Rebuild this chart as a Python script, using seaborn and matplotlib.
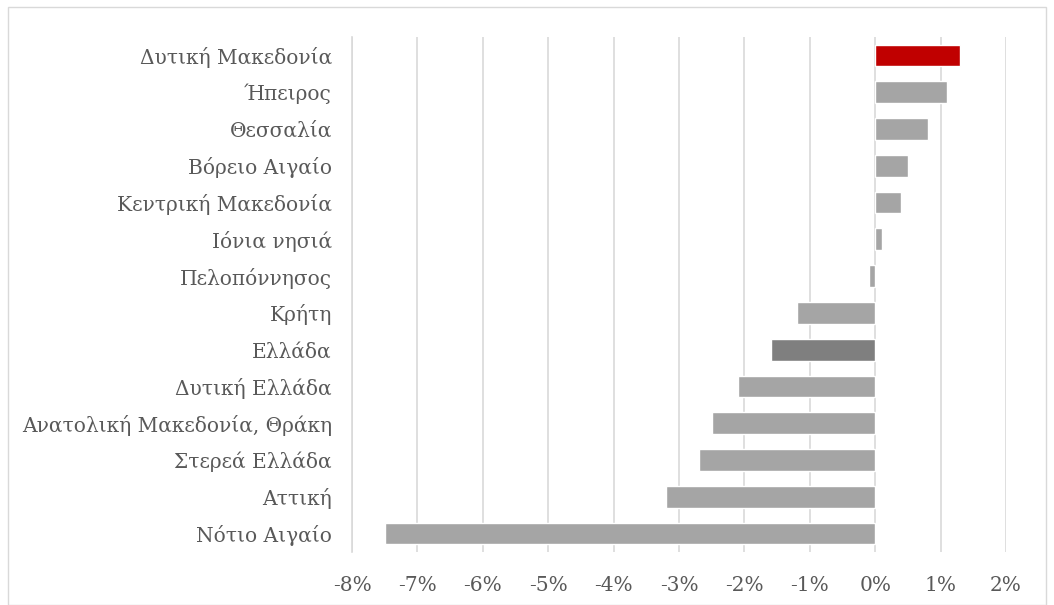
import matplotlib
matplotlib.use('Agg')
import matplotlib.pyplot as plt
import seaborn as sns
import pandas as pd
from matplotlib.patches import Rectangle
from matplotlib.ticker import FuncFormatter, MultipleLocator

# Data (% change)
regions = ['Δυτική Μακεδονία', 'Ήπειρος', 'Θεσσαλία', 'Βόρειο Αιγαίο', 'Κεντρική Μακεδονία',
           'Ιόνια νησιά', 'Πελοπόννησος', 'Κρήτη', 'Ελλάδα', 'Δυτική Ελλάδα',
           'Ανατολική Μακεδονία, Θράκη', 'Στερεά Ελλάδα', 'Αττική', 'Νότιο Αιγαίο']
change = [1.3, 1.1, 0.8, 0.5, 0.4, 0.1, -0.1, -1.2, -1.6, -2.1, -2.5, -2.7, -3.2, -7.5]
bar_colors = ['#C00000'] + ['#A5A5A5'] * 7 + ['#7F7F7F'] + ['#A5A5A5'] * 5

df = pd.DataFrame({'region': regions, 'change': change})

sns.set_style('white')
plt.rcParams['font.family'] = ['DejaVu Serif']

fig = plt.figure(figsize=(10.54, 6.05), dpi=100)
ax = fig.add_axes([352 / 1054, 1 - 552 / 605, (1006 - 352) / 1054, (552 - 37) / 605])

sns.barplot(data=df, x='change', y='region', hue='region', palette=bar_colors,
            legend=False, width=0.59, ax=ax, orient='h', saturation=1)

ax.set_xlim(-8, 2)
ax.xaxis.set_major_locator(MultipleLocator(1))
ax.xaxis.set_major_formatter(FuncFormatter(lambda v, p: f'{v:.0f}%'))
ax.grid(axis='x', color='#D9D9D9', linewidth=1.2)
ax.set_axisbelow(True)
ax.set_xlabel('')
ax.set_ylabel('')
for s in ['top', 'right', 'bottom']:
    ax.spines[s].set_visible(False)
ax.spines['left'].set_color('#D9D9D9')
ax.spines['left'].set_linewidth(1.2)
ax.tick_params(axis='both', length=0, colors='#595959')
ax.tick_params(axis='y', labelsize=14.5, pad=14.5)
ax.tick_params(axis='x', labelsize=14.5, pad=17)

# Chart-area border
fig.patches.append(Rectangle((8 / 1054, 0), 1038 / 1054, 598 / 605, transform=fig.transFigure,
                             fill=False, edgecolor='#D9D9D9', linewidth=1))

fig.savefig('out.png', dpi=100)
